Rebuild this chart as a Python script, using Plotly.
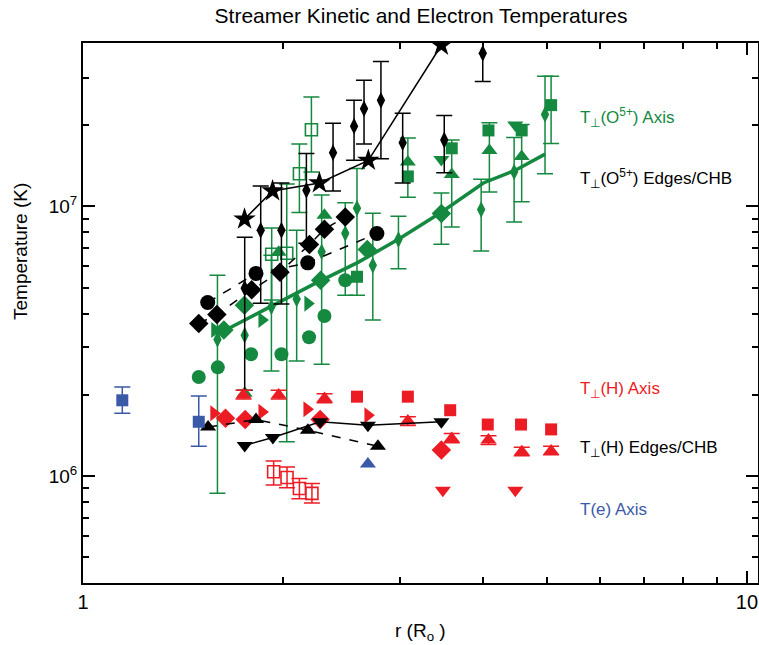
import numpy as np
import plotly.graph_objects as go

GREEN = "#14893f"
RED = "#ec1c24"
BLUE = "#3a59a7"
BLACK = "#000000"

# ---------------- T_perp(O5+) Axis (green) ----------------
oa_fit_r = [1.607, 1.776, 1.992, 2.241, 2.60, 2.986, 3.465, 4.009, 4.48, 4.966]
oa_fit_T = [3.39e6, 3.85e6, 4.49e6, 5.19e6, 6.21e6, 7.55e6, 9.5e6, 1.22e7, 1.36e7, 1.56e7]

oa_bigdia_r = [1.63, 1.75, 2.28, 2.68, 3.465]
oa_bigdia_T = [3.48e6, 4.30e6, 5.32e6, 6.92e6, 9.40e6]
oa_bigdia_hi = [None, None, None, None, 1.12e7]
oa_bigdia_lo = [None, None, None, None, 7.23e6]

oa_dia_r = [1.594, 1.752, 1.922, 2.098, 2.288, 2.483, 2.586, 2.732, 2.986, 3.978, 4.46, 4.964]
oa_dia_T = [3.21e6, 3.33e6, 4.24e6, 4.53e6, 6.78e6, 7.94e6, 9.84e6, 6.04e6, 7.53e6, 9.72e6, 1.34e7, 2.19e7]
oa_dia_hi = [5.55e6, None, 6.59e6, 8.15e6, 1.10e7, 1.03e7, 1.38e7, 9.42e6, 9.18e6, 1.26e7, 1.80e7, 3.03e7]
oa_dia_lo = [8.65e5, None, 2.45e6, 2.67e6, 2.60e6, 4.68e6, 4.68e6, 3.79e6, 5.87e6, 6.83e6, 8.75e6, 1.32e7]

oa_circ_r = [1.494, 1.596, 1.791, 1.99, 2.19, 2.31, 2.483]
oa_circ_T = [2.33e6, 2.53e6, 2.83e6, 2.83e6, 3.27e6, 3.92e6, 5.32e6]

oa_sq_r = [2.586, 3.085, 3.592, 4.08, 4.578, 5.07]
oa_sq_T = [5.48e6, 1.29e7, 1.64e7, 1.91e7, 1.91e7, 2.37e7]
oa_sq_hi = [None, None, None, None, None, 3.03e7]
oa_sq_lo = [None, None, None, None, None, 1.71e7]

oa_tri_r = [1.752, 1.971, 2.31, 3.085, 3.592, 4.093, 4.578]
oa_tri_T = [2.03e6, 6.76e6, 9.26e6, 1.46e7, 1.31e7, 1.61e7, 1.53e7]
oa_tri_hi = [None, None, None, 1.79e7, 1.76e7, 2.04e7, 2.01e7]
oa_tri_lo = [None, None, None, 1.08e7, 8.38e6, 1.13e7, 1.04e7]

oa_trid_r = [3.465, 4.478]
oa_trid_T = [1.49e7, 2.0e7]

oa_trir_r = [1.579, 1.86, 2.181]
oa_trir_T = [3.48e6, 3.79e6, 4.36e6]

oa_osq_r = [1.924, 2.027, 2.118, 2.208]
oa_osq_T = [6.64e6, 6.70e6, 1.32e7, 1.92e7]
oa_osq_hi = [8.3e6, 1.21e7, 1.70e7, 2.54e7]
oa_osq_lo = [4.49e6, 1.34e6, 9.48e6, 1.34e7]

# ---------------- T_perp(O5+) Edges/CHB (black) ----------------
oe_star_r = [1.751, 1.93, 2.27, 2.69, 3.465]
oe_star_T = [8.96e6, 1.14e7, 1.22e7, 1.48e7, 3.95e7]

oe_dia_r = [1.752, 1.852, 1.99, 2.17, 2.38, 2.56, 2.65, 2.81, 3.03, 3.50, 4.00]
oe_dia_T = [4.97e6, 8.15e6, 8.15e6, 1.146e7, 1.58e7, 1.98e7, 2.30e7, 2.47e7, 1.72e7, 1.76e7, 3.69e7]
oe_dia_hi = [7.68e6, 1.19e7, 1.22e7, 1.57e7, 2.03e7, 2.47e7, 2.93e7, 3.44e7, 2.21e7, 2.17e7, 4.8e7]
oe_dia_lo = [2.08e6, 4.37e6, 4.34e6, 7.3e6, 1.14e7, 1.48e7, 1.70e7, 1.50e7, 1.22e7, 1.33e7, 2.90e7]

oe_bigdia_r = [1.494, 1.591, 1.795, 1.98, 2.193, 2.31, 2.483]
oe_bigdia_T = [3.68e6, 3.97e6, 4.90e6, 5.70e6, 7.21e6, 8.22e6, 9.13e6]

oe_circ_r = [1.541, 1.822, 2.18, 2.771]
oe_circ_T = [4.40e6, 5.64e6, 6.17e6, 7.93e6]

# ---------------- T_perp(H) Axis (red) ----------------
ha_sq_r = [2.586, 3.085, 3.573, 4.07, 4.568, 5.07]
ha_sq_T = [1.97e6, 1.97e6, 1.755e6, 1.553e6, 1.553e6, 1.49e6]

ha_tri_r = [1.745, 1.971, 2.311, 3.085, 3.592, 4.08, 4.58, 5.07]
ha_tri_T = [2.0e6, 2.0e6, 1.94e6, 1.60e6, 1.38e6, 1.36e6, 1.23e6, 1.24e6]
ha_tri_hi = [2.08e6, 2.08e6, 2.02e6, 1.66e6, 1.44e6, 1.41e6, 1.28e6, 1.29e6]
ha_tri_lo = [1.93e6, 1.93e6, 1.87e6, 1.54e6, 1.33e6, 1.31e6, 1.19e6, 1.20e6]

ha_trir_r = [1.574, 1.86, 2.174, 2.686]
ha_trir_T = [1.71e6, 1.73e6, 1.77e6, 1.68e6]

ha_dia_r = [1.639, 1.755, 2.276, 3.465]
ha_dia_T = [1.64e6, 1.62e6, 1.62e6, 1.25e6]

ha_trid_r = [3.483, 4.478]
ha_trid_T = [8.87e5, 8.87e5]

ha_osq_r = [1.937, 2.029, 2.118, 2.212]
ha_osq_T = [1.038e6, 9.89e5, 9.0e5, 8.63e5]
ha_osq_hi = [1.138e6, 1.08e6, 9.8e5, 9.4e5]
ha_osq_lo = [9.27e5, 9.05e5, 8.25e5, 7.95e5]

# ---------------- T_perp(H) Edges/CHB (black) ----------------
he_tri_r = [1.543, 1.822, 2.181, 2.781]
he_tri_T = [1.52e6, 1.62e6, 1.48e6, 1.29e6]

he_trid_r = [1.752, 1.932, 2.276, 2.686, 3.465]
he_trid_T = [1.30e6, 1.39e6, 1.59e6, 1.545e6, 1.59e6]

# ---------------- T(e) Axis (blue) ----------------
te_sq_r = [1.146, 1.494]
te_sq_T = [1.91e6, 1.59e6]
te_sq_hi = [2.14e6, 1.98e6]
te_sq_lo = [1.71e6, 1.29e6]

te_tri_r = [2.686]
te_tri_T = [1.11e6]

# tick labels
x_tickvals = [1, 10]
x_ticktext = ["1", "10"]
y_tickvals = [1e6, 1e7]
y_ticktext = ["10<sup>6</sup>", "10<sup>7</sup>"]
x_minor = [2, 3, 4, 5, 6, 7, 8, 9]
y_minor = [5e5, 6e5, 7e5, 8e5, 9e5, 2e6, 3e6, 4e6, 5e6, 6e6, 7e6, 8e6, 9e6, 2e7, 3e7]

fig = go.Figure()


def add_line(r, T, color, width, dash="solid"):
    fig.add_trace(go.Scatter(x=r, y=T, mode="lines",
                             line=dict(color=color, width=width, dash=dash),
                             hoverinfo="skip"))


def add(r, T, color, symbol, size, hi=None, lo=None, open_=False):
    r = np.asarray(r, float)
    T = np.asarray(T, float)
    marker = dict(symbol=symbol, size=size, color=color,
                  line=dict(width=1.6 if open_ else 0, color=color))
    if hi is None:
        fig.add_trace(go.Scatter(x=r, y=T, mode="markers", marker=marker))
        return
    has = np.array([h is not None for h in hi])
    hi_a = np.array([h if h is not None else np.nan for h in hi], float)
    lo_a = np.array([v if v is not None else np.nan for v in lo], float)
    if (~has).any():
        fig.add_trace(go.Scatter(x=r[~has], y=T[~has], mode="markers", marker=marker))
    fig.add_trace(go.Scatter(
        x=r[has], y=T[has], mode="markers", marker=marker,
        error_y=dict(type="data", symmetric=False,
                     array=hi_a[has] - T[has], arrayminus=T[has] - lo_a[has],
                     color=color, thickness=1.5, width=8)))


# green O5+ axis
add(oa_osq_r, oa_osq_T, GREEN, "square-open", 12, oa_osq_hi, oa_osq_lo, open_=True)
add(oa_dia_r, oa_dia_T, GREEN, "diamond-tall", 12, oa_dia_hi, oa_dia_lo)
add(oa_sq_r, oa_sq_T, GREEN, "square", 12, oa_sq_hi, oa_sq_lo)
add(oa_tri_r, oa_tri_T, GREEN, "triangle-up", 14, oa_tri_hi, oa_tri_lo)
add(oa_trid_r, oa_trid_T, GREEN, "triangle-down", 14)
add(oa_trir_r, oa_trir_T, GREEN, "triangle-right", 14)
add(oa_circ_r, oa_circ_T, GREEN, "circle", 14)
add_line(oa_fit_r, oa_fit_T, GREEN, 3.5)
add(oa_bigdia_r, oa_bigdia_T, GREEN, "diamond", 15, oa_bigdia_hi, oa_bigdia_lo)

# black O5+ edges
add(oe_dia_r, oe_dia_T, BLACK, "diamond-tall", 12, oe_dia_hi, oe_dia_lo)
add_line(oe_bigdia_r, oe_bigdia_T, BLACK, 1.5, "dash")
add(oe_bigdia_r, oe_bigdia_T, BLACK, "diamond", 15)
add_line(oe_circ_r, oe_circ_T, BLACK, 1.5, "dash")
add(oe_circ_r, oe_circ_T, BLACK, "circle", 15)
add_line(oe_star_r, oe_star_T, BLACK, 1.5)
add(oe_star_r, oe_star_T, BLACK, "star", 17)

# red H axis
add(ha_osq_r, ha_osq_T, RED, "square-open", 12, ha_osq_hi, ha_osq_lo, open_=True)
add(ha_sq_r, ha_sq_T, RED, "square", 12)
add(ha_tri_r, ha_tri_T, RED, "triangle-up", 14, ha_tri_hi, ha_tri_lo)
add(ha_trir_r, ha_trir_T, RED, "triangle-right", 14)
add(ha_dia_r, ha_dia_T, RED, "diamond", 15)
add(ha_trid_r, ha_trid_T, RED, "triangle-down", 14)

# black H edges
add_line(he_tri_r, he_tri_T, BLACK, 1.5, "dash")
add(he_tri_r, he_tri_T, BLACK, "triangle-up", 14)
add_line(he_trid_r, he_trid_T, BLACK, 1.5)
add(he_trid_r, he_trid_T, BLACK, "triangle-down", 14)

# blue Te
add(te_sq_r, te_sq_T, BLUE, "square", 12, te_sq_hi, te_sq_lo)
add(te_tri_r, te_tri_T, BLUE, "triangle-up", 14)

PL, PR, PT, PB = 83, 1, 43, 62
W, H = 759, 645
pw, ph = W - PL - PR, H - PT - PB


def px(xp):
    return (xp - PL) / pw


def py(yp):
    return (H - PB - yp) / ph


labels = [
    ("T<sub>⊥</sub>(O<sup>5+</sup>) Axis", GREEN, 118),
    ("T<sub>⊥</sub>(O<sup>5+</sup>) Edges/CHB", BLACK, 178),
    ("T<sub>⊥</sub>(H) Axis", RED, 390),
    ("T<sub>⊥</sub>(H) Edges/CHB", BLACK, 449),
    ("T(e) Axis", BLUE, 509),
]
for txt, col, yy in labels:
    fig.add_annotation(text=txt, xref="paper", yref="paper", x=px(578), y=py(yy),
                       xanchor="left", yanchor="middle", showarrow=False,
                       font=dict(size=17, color=col))

fig.add_annotation(text="Temperature (K)", xref="paper", yref="paper",
                   x=px(20), y=py(252), textangle=-90, showarrow=False,
                   xanchor="center", yanchor="middle", font=dict(size=19, color="black"))
fig.add_annotation(text="r (R<sub>o</sub> )", xref="paper", yref="paper",
                   x=px(420), y=py(632), showarrow=False,
                   xanchor="center", yanchor="middle", font=dict(size=19, color="black"))

fig.update_layout(
    width=W, height=H,
    margin=dict(l=PL, r=PR, t=PT, b=PB),
    paper_bgcolor="white", plot_bgcolor="white",
    showlegend=False,
    font=dict(family="Arial, Liberation Sans, sans-serif", color="black"),
    title=dict(text="Streamer Kinetic and Electron Temperatures",
               x=px(421), xref="paper", xanchor="center",
               y=1 - 16 / H, yref="container", yanchor="middle",
               font=dict(size=21, color="black")),
)
fig.update_xaxes(type="log", range=[0, 1.0166], tickmode="array",
                 tickvals=x_tickvals, ticktext=x_ticktext,
                 ticks="inside", ticklen=12, tickwidth=1.5, tickcolor="black",
                 showline=True, linewidth=2, linecolor="black", mirror="allticks",
                 showgrid=False, zeroline=False, tickfont=dict(size=20),
                 minor=dict(ticks="inside", ticklen=6, tickwidth=1.5, tickcolor="black",
                            tickmode="array", tickvals=x_minor, showgrid=False),
                 automargin=False)
fig.update_yaxes(type="log", range=[5.604, 7.605], tickmode="array",
                 tickvals=y_tickvals, ticktext=y_ticktext,
                 ticks="inside", ticklen=12, tickwidth=1.5, tickcolor="black",
                 showline=True, linewidth=2, linecolor="black", mirror="allticks",
                 showgrid=False, zeroline=False, tickfont=dict(size=19),
                 minor=dict(ticks="inside", ticklen=6, tickwidth=1.5, tickcolor="black",
                            tickmode="array", tickvals=y_minor, showgrid=False),
                 automargin=False)

fig.write_html("out.html")
